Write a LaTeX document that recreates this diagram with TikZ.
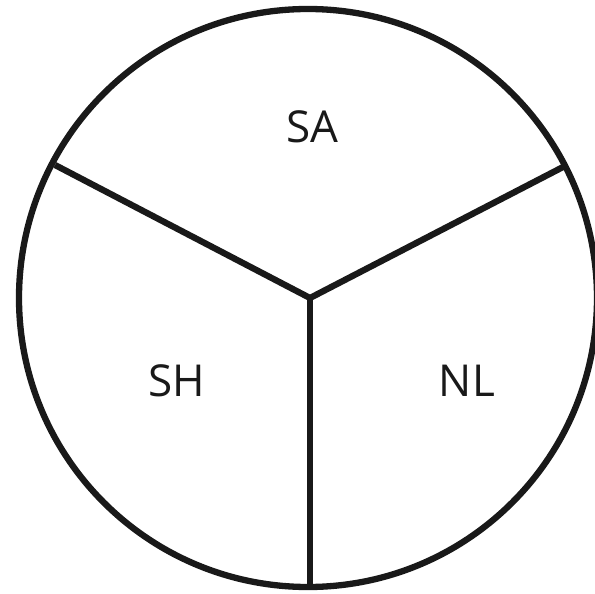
\documentclass[tikz,border=0pt]{standalone}
\usepackage{fontspec}
\setmainfont{Open Sans}
\begin{document}
\begin{tikzpicture}[x=1pt,y=-1pt,
  ln/.style={line width=6.3pt,draw=black!90},
  lbl/.style={font=\fontsize{44}{50}\selectfont,text=black!90,inner sep=0pt}]
\useasboundingbox (0,0) rectangle (595,594);
\coordinate (c) at (308,298);
\coordinate (hub) at (310,298);
\coordinate (pl) at (55,165);
\coordinate (pr) at (565,166);
\coordinate (pb) at (310,589);
\draw[ln] (c) circle[radius=289];
\draw[ln,line join=miter] (pl) -- (hub) -- (pr);
\draw[ln] (hub) -- (pb);
\node[lbl] (sa) at (312,127) {SA};
\node[lbl] (sh) at (177,381) {SH};
\node[lbl] (nl) at (467,381) {NL};
\end{tikzpicture}
\end{document}
